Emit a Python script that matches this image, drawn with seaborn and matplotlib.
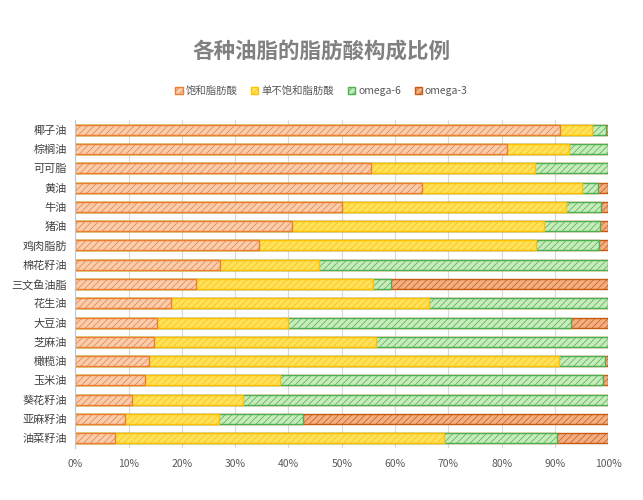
import matplotlib
matplotlib.use('Agg')
import matplotlib.pyplot as plt
import matplotlib.patches as mpatches
import seaborn as sns
import pandas as pd
import numpy as np

oils = ['椰子油', '棕榈油', '可可脂', '黄油', '牛油', '猪油', '鸡肉脂肪', '棉花籽油',
        '三文鱼油脂', '花生油', '大豆油', '芝麻油', '橄榄油', '玉米油', '葵花籽油',
        '亚麻籽油', '油菜籽油']
saturated = [91, 81, 55.5, 65, 50, 40.6, 34.5, 27.1, 22.7, 18, 15.3, 14.7, 13.9, 13, 10.6, 9.3, 7.5]
mufa = [6, 11.6, 30.8, 30, 42, 47.3, 52, 18.6, 33.1, 48.3, 24.6, 41.8, 76.9, 25.4, 20.9, 17.7, 61.6]
omega6 = [2.6, 7.3, 13.6, 3, 6.6, 10.5, 11.8, 54.3, 3.4, 33.7, 53.2, 43.5, 8.5, 60.7, 68.5, 15.7, 21.2]
omega3 = [0.4, 0.1, 0.1, 2, 1.4, 1.6, 1.7, 0, 40.8, 0, 6.9, 0, 0.7, 0.9, 0, 57.3, 9.7]

series = ['饱和脂肪酸', '单不饱和脂肪酸', 'omega-6', 'omega-3']
fills = ['#F9CDB0', '#FFE15E', '#C8EBBC', '#F4AE84']
edges = ['#ED7D31', '#FFC000', '#4CAF50', '#C55A11']

sns.set_style('white')
plt.rcParams['font.family'] = ['Noto Sans CJK SC', 'DejaVu Sans']
plt.rcParams['hatch.linewidth'] = 0.5

df = pd.DataFrame({'oil': oils, '饱和脂肪酸': saturated, '单不饱和脂肪酸': mufa,
                   'omega-6': omega6, 'omega-3': omega3})
vals = df[series].to_numpy()
pct = vals / vals.sum(axis=1, keepdims=True) * 100
cum = np.cumsum(pct, axis=1)

fig = plt.figure(figsize=(6.43, 5.0), dpi=100)
ax = fig.add_axes([0.117, 0.104, 0.829, 0.656])

# draw from the longest cumulative segment down so each one covers the next
for i in range(3, -1, -1):
    sns.barplot(x=cum[:, i], y=df['oil'], orient='h', ax=ax, color=fills[i],
                edgecolor=edges[i], linewidth=1.0, hatch='/////', width=0.52,
                saturation=1)

ax.set_xlim(0, 100)
ax.set_xticks(range(0, 101, 10))
ax.set_xticklabels([f'{t}%' for t in range(0, 101, 10)], fontsize=7.5, color='#595959')
ax.tick_params(axis='y', labelsize=8, colors='#404040', length=0, pad=6)
ax.tick_params(axis='x', length=0, pad=8)
ax.set_xlabel('')
ax.set_ylabel('')
ax.grid(axis='x', color='#D9D9D9', linewidth=0.8)
ax.set_axisbelow(True)
for s in ['top', 'right', 'bottom']:
    ax.spines[s].set_visible(False)
ax.spines['left'].set_color('#BFC8D6')

fig.suptitle('各种油脂的脂肪酸构成比例', x=0.5, y=0.918, fontsize=15.5,
             fontweight='bold', color='#808080')

handles = [mpatches.Patch(facecolor=fills[i], edgecolor=edges[i], hatch='/////', label=series[i])
           for i in range(4)]
fig.legend(handles=handles, loc='center', bbox_to_anchor=(0.5, 0.818), ncol=4,
           frameon=False, fontsize=7.5, handlelength=0.7, handleheight=0.7,
           handletextpad=0.3, columnspacing=1.3, labelcolor='#595959')

fig.savefig('out.png', dpi=100, facecolor='white')
